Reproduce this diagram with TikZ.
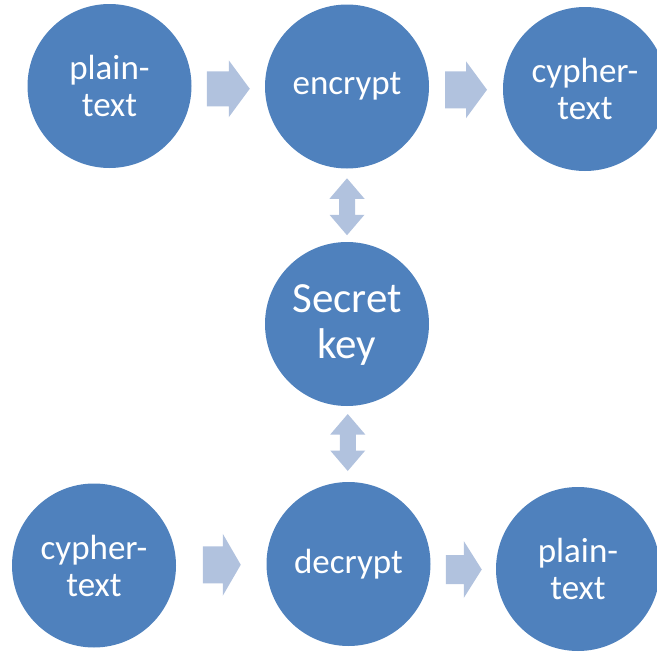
\documentclass[tikz,border=0pt]{standalone}
\usepackage{fontspec}
\setmainfont{Carlito}
\usetikzlibrary{calc}
\definecolor{circblue}{HTML}{4F81BD}
\definecolor{arrblue}{HTML}{B1C2DE}
\tikzset{
  bubble/.style={circle, fill=circblue, draw=none, minimum size=164pt, inner sep=0pt,
    text=white, align=center, font=\fontsize{35}{37}\selectfont},
  bigbubble/.style={bubble, font=\fontsize{43}{46}\selectfont},
  pics/rarr/.style args={#1/#2/#3/#4}{code={
    \fill[arrblue] (-#1,-#3) -- (0,-#3) -- (0,-#4) -- (#2,0) -- (0,#4) -- (0,#3) -- (-#1,#3) -- cycle;
  }},
  pics/varr/.style={code={
    \fill[arrblue] (0,-28.5) -- (17.5,-8) -- (8,-8) -- (8,8) -- (17.5,8) -- (0,28.5)
      -- (-17.5,8) -- (-8,8) -- (-8,-8) -- (-17.5,-8) -- cycle;
  }}
}
\begin{document}
\begin{tikzpicture}[x=1pt,y=-1pt]
\useasboundingbox (0,0) rectangle (657,653);
\clip (0,0) rectangle (657,653);
\node[bubble] (pt1) at (109.5,86) {plain-\\text};
\node[bubble] (enc) at (347,86.5) {encrypt};
\node[bubble] (ct1) at (585,89) {cypher-\\text};
\node[bigbubble] (key) at (347,324) {};
\node[white, font=\fontsize{43}{46}\selectfont, align=center] (keytxt) at ($(key.center)+(0,1.5)$) {Secret\\key};
\node[bubble] (ct2) at (94,565.5) {cypher-\\text};
\node[bubble] (dec) at (348.5,564) {decrypt};
\node[bubble] (pt2) at (578,569) {plain-\\text};
% right arrows
\coordinate (a1) at ($(pt1.east)!0.5!(enc.west)+(0,2.5)$);
\pic at ($(a1)+(0.5,0)$) {rarr={22/21/17.5/28.5}};
\coordinate (a2) at ($(enc.east)!0.5!(ct1.west)+(0,2)$);
\pic at (a2) {rarr={21/21/18.5/28.5}};
\coordinate (a3) at ($(ct2.east)!0.5!(dec.west)$);
\pic at ($(a3)+(1.5,0)$) {rarr={20/18/18.5/31}};
\coordinate (a4) at ($(dec.east)!0.5!(pt2.west)+(0,3)$);
\pic at ($(a4)+(0.5,0)$) {rarr={18/18/14.5/28.5}};
% double arrows
\coordinate (v1) at ($(enc.south)!0.5!(key.north)+(0,1.5)$);
\pic at (v1) {varr};
\coordinate (v2) at ($(key.south)!0.5!(dec.north)+(0,-1.5)$);
\pic at (v2) {varr};
\end{tikzpicture}
\end{document}
